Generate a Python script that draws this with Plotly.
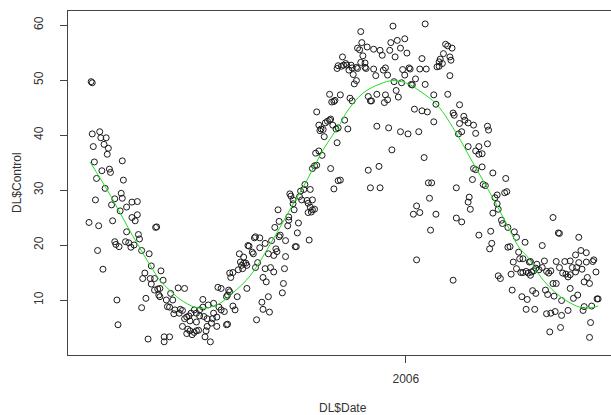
import pandas as pd
import plotly.graph_objects as go

# ---------------- data ----------------
start_date = "2005-03-12"

day_offset = [
    2, 3, 3, 10, 4, 11, 16, 14, 18, 17, 5, 31, 19, 20, 12, 7, 32, 15, 30, 24, 31, 6, 21, 40, 45, 35, 29, 40, 45, 43,
    0, 22, 9, 62, 63, 35, 24, 25, 28, 34, 37, 39, 42, 46, 47, 49, 8, 56, 58, 13, 52, 50, 57, 61, 58, 61, 64, 65, 53, 26,
    49, 27, 55,
    67, 69, 66, 66, 83, 89, 76, 72, 78, 73, 75, 80, 85, 87, 79, 84, 106, 111, 116, 121, 123, 126, 98, 100, 95, 93, 89,
    91, 103, 107, 110, 115, 116, 119, 94, 100, 110, 114, 119, 87, 92, 94, 102, 100, 91, 98, 96, 109, 108, 113, 70, 75,
    70, 128, 129, 134, 136, 138, 128, 129, 130, 131, 123, 120, 103, 106, 131, 132, 134, 140, 141, 142, 147, 146, 144,
    139, 143, 147, 149,
    144, 148, 152, 153, 154, 155, 159, 157, 159, 164, 167, 170, 172, 174, 175, 155, 164, 169, 172, 162, 165, 182, 183,
    183, 178, 177, 173, 176, 177, 186, 185, 186, 187, 188, 190, 190, 191, 192, 193, 195, 194, 196, 198, 197, 200, 201,
    203, 204, 206, 206, 208, 208, 210, 204, 207, 205, 208, 210, 212, 211, 214, 217, 216, 215, 218, 214, 219, 212, 220,
    222, 224, 225, 228, 232, 231, 226, 228, 232, 181, 180, 167, 161, 162, 168, 156,
    253, 283, 313, 254, 281, 287, 294, 250, 252, 259, 265, 271, 280, 290, 296, 273, 255, 285, 310, 236, 253, 257, 232,
    235, 237, 239, 240, 244, 245, 249, 250, 257, 258, 231, 242, 265, 274, 276, 292, 298, 299, 308, 314, 246, 267, 278,
    294, 304, 249, 247, 284, 291, 300, 301, 313, 286, 234, 224, 260, 268, 276, 288, 229, 243, 245, 262, 263, 275, 278,
    303, 310, 315, 225, 227, 230, 238, 241, 268, 279, 290, 297, 307, 282, 312, 260, 270, 234, 262, 271, 316, 317, 305,
    302, 308, 305,
    323, 318, 342, 347, 353, 355, 363, 374, 375, 373, 339, 376, 380, 381, 384, 385, 390, 396, 398, 390, 392, 381, 383,
    393, 395, 398, 400, 401, 394,
    332, 334, 338, 330, 327, 326, 329, 326, 324, 336, 337, 336, 321, 334, 323, 321, 345, 339, 340, 349, 350, 345, 347,
    353, 358, 360, 371, 372, 344, 353, 363, 371, 360, 363, 366, 358, 360, 366, 376, 357, 367, 369, 388, 319, 342, 354,
    380, 378, 387, 389,
    432, 437, 438, 456, 406, 422, 404, 410, 411, 424, 417, 422, 419, 416, 414, 412, 411, 435, 443, 448, 450, 454, 456,
    453, 448, 444, 441, 446, 430, 428, 426, 402, 404, 407, 409, 438, 459, 463, 458, 453, 463, 469, 472, 464, 466, 461,
    470, 432, 435, 448, 425, 427, 413, 416, 403, 408, 433, 440, 451, 455, 407, 415, 434, 440, 446, 426, 430, 460, 461,
    468, 473, 474, 467, 429, 439, 466,
]

control = [
    49.7, 49.5, 40.2, 40.6, 37.9, 39.5, 39.5, 38.3, 37.6, 36.5, 35.1, 35.3, 33.8, 33.2, 33.5, 32.1, 31.8, 30.3, 29.4,
    28.4, 28.5, 28.2, 27.3, 27.8, 27.9, 26.9, 26.2, 25.0, 25.5, 24.4,
    24.1, 24.4, 23.5, 23.2, 23.3, 22.4, 20.6, 20.1, 19.7, 20.6, 20.4, 19.6, 20.0, 21.9, 21.1, 19.0, 19.0, 18.4, 16.2,
    15.6, 14.9, 13.9, 13.9, 13.9, 12.9, 11.8, 12.0, 10.9, 10.3, 10.0,
    8.6, 5.5, 2.9,
    15.3, 13.6, 12.1, 10.6, 12.2, 12.1, 11.2, 10.0, 10.0, 8.8, 8.7, 8.2, 8.3, 8.1, 7.5, 7.6, 10.1, 9.1, 9.4, 8.7, 8.2,
    7.9, 8.2, 7.6, 7.6, 7.1, 6.6,
    6.9, 7.1, 7.0, 6.6, 6.6, 7.6, 6.9, 6.2, 6.0, 5.2, 5.8, 5.2, 5.2, 4.7, 4.4, 4.5, 4.4, 3.9, 4.1, 3.7, 4.4, 3.3, 2.4,
    3.3, 3.3,
    2.4, 5.5, 5.6, 8.9, 8.2, 10.6, 10.6, 10.9, 11.8, 11.5, 12.1, 12.3, 8.2, 8.7, 14.9, 14.1, 15.0, 18.4, 16.9, 16.3,
    16.3, 16.7, 16.7,
    15.5, 15.7, 12.1, 19.8,
    17.8, 19.9, 18.7, 18.4, 21.3, 21.5, 21.3, 16.8, 19.5, 20.3, 18.4, 20.8, 18.1, 19.3, 18.8, 15.9, 15.7, 15.9, 15.1,
    14.1, 13.3, 15.7, 17.9,
    20.8, 21.8, 21.5, 23.2, 26.4, 24.3, 24.5, 23.5, 25.1, 29.3, 28.9, 28.2, 27.5, 26.4, 19.7, 19.7, 24.0, 22.2, 28.8,
    28.2, 29.8, 30.1, 31.0,
    28.1, 27.6, 26.9, 30.1, 28.2, 26.4, 26.5, 25.9, 26.0, 20.9, 33.9, 34.4, 34.5, 36.7, 37.1, 36.3, 41.1, 40.8, 41.0,
    41.8, 39.7, 44.2, 42.2,
    42.5, 42.7, 33.9, 30.2, 31.7, 38.6, 46.0, 46.1, 41.3, 13.0, 11.3, 10.6, 9.6, 8.3, 7.8, 6.4,
    58.8, 59.8, 60.2, 56.8, 56.8, 57.2, 57.5, 55.8, 55.5, 56.0, 55.6, 55.4, 55.4, 55.8, 54.9, 54.5, 54.4, 54.2, 53.9,
    54.2, 53.2, 53.1, 52.6,
    52.5, 52.7, 53.0, 52.7, 52.7, 52.2, 52.3, 52.1, 52.3, 52.1, 52.1, 51.8, 52.0, 51.8, 52.2, 51.9, 52.2, 52.0, 52.0,
    52.0, 51.0, 50.8, 50.9,
    50.9, 50.2, 49.9, 49.3, 49.7, 49.5, 49.2, 49.1, 49.2, 48.1, 47.3, 47.4, 47.0, 47.4, 47.3, 46.9, 46.3, 46.7, 46.2,
    46.2, 46.2, 45.9, 46.4,
    44.7, 44.4, 44.2, 42.9, 41.8, 41.1, 42.7, 41.1, 41.6, 41.3, 40.6, 40.2, 40.6, 37.3, 35.9, 33.6, 34.3, 31.8, 30.4,
    30.4, 31.3, 28.5, 27.1,
    25.6, 25.9, 17.3,
    25.6, 22.7, 24.9, 24.2, 27.8, 26.5, 21.8, 22.5, 20.3, 19.3, 13.6, 25.8, 27.5, 26.5, 24.5, 23.9, 23.2, 22.4, 21.4,
    19.6, 19.7, 14.4, 13.9,
    14.7, 16.9, 15.7, 18.7, 17.5, 11.8,
    56.5, 56.2, 55.8, 54.8, 53.8, 53.3, 53.0, 52.5, 52.4, 54.2, 53.6, 50.8, 47.3, 47.4, 45.6, 42.4, 45.5, 44.0, 43.6,
    43.4, 42.7, 42.1, 40.6,
    42.2, 41.8, 40.3, 41.6, 40.9, 40.2, 37.9, 37.9, 38.4, 37.1, 36.5, 36.6, 33.9, 33.7, 34.2, 33.1, 31.9, 31.0, 30.8,
    32.1, 31.3, 30.4, 28.7,
    29.1, 28.6, 29.5, 29.7,
    25.0, 22.2, 22.1, 21.4, 20.5, 19.9, 17.5, 16.9, 17.0, 17.1, 16.5, 15.9, 15.5, 15.8, 15.3, 15.1, 14.5, 17.0, 17.0,
    17.1, 15.9, 15.9, 16.8,
    15.1, 14.6, 14.7, 14.9, 14.2, 15.3, 14.9, 15.2, 15.0, 15.0, 15.2, 14.9, 15.9, 15.6, 16.9, 19.0, 18.2, 18.6, 17.0,
    15.1, 14.1, 13.0, 13.3,
    17.3, 13.0, 13.0, 12.1, 11.8, 11.0, 11.7, 11.2, 10.6, 10.1, 10.7, 9.9, 10.3, 10.9, 8.3, 8.3, 7.9, 7.2, 8.1, 7.5,
    7.6, 8.1, 8.8,
    8.9, 10.2, 10.2, 5.9, 4.2, 5.0, 3.2,
]

# smoothed (lowess-like) curve
smooth_day = [1, 20, 38, 57, 66, 75, 88, 103, 119, 134, 150, 171, 187, 203, 218, 234, 240, 255, 271, 283, 296,
              308, 324, 343, 355, 371, 386, 401, 408, 423, 439, 454, 463, 474]
smooth_control = [35.1, 29.0, 22.6, 16.3, 13.6, 11.8, 9.7, 8.5, 9.1, 11.3, 14.4, 20.9, 26.4, 31.8, 37.3, 42.1, 44.2,
                  47.6, 49.3, 49.9, 49.4, 48.0, 45.5, 40.0, 35.8, 30.3, 24.9, 19.4, 17.9, 13.6, 10.6, 8.9, 8.5, 8.9]

x_tick_dates = ["2006-01-01"]
x_tick_labels = ["2006"]
y_tick_values = [10, 20, 30, 40, 50, 60]

# ---------------- figure ----------------
t0 = pd.Timestamp(start_date)
dates = t0 + pd.to_timedelta(day_offset, unit="D")
smooth_dates = t0 + pd.to_timedelta(smooth_day, unit="D")

FONT = "Liberation Sans, Arial, sans-serif"
INK = "#333333"

fig = go.Figure()
fig.add_trace(go.Scatter(
    x=dates, y=control, mode="markers",
    marker=dict(symbol="circle-open", size=6, color="#1a1a1a", line=dict(width=1, color="#1a1a1a")),
    showlegend=False, hoverinfo="x+y",
))
fig.add_trace(go.Scatter(
    x=smooth_dates, y=smooth_control, mode="lines",
    line=dict(color="#22dd22", width=1, shape="spline", smoothing=1.0),
    showlegend=False, hoverinfo="skip",
))

fig.update_layout(
    width=611, height=415,
    margin=dict(l=68, r=0, t=11, b=60),
    paper_bgcolor="white", plot_bgcolor="white",
    font=dict(family=FONT, size=12, color=INK),
    xaxis=dict(
        type="date",
        range=[t0 + pd.Timedelta(days=-19.55), t0 + pd.Timedelta(days=486)],
        showgrid=False, zeroline=False,
        showline=True, linecolor="#444444", linewidth=1, mirror=True,
        ticks="outside", ticklen=7, tickcolor="#444444", tickwidth=1,
        tickvals=x_tick_dates, ticktext=x_tick_labels,
        ticklabelstandoff=6,
        tickfont=dict(family=FONT, size=12, color=INK),
    ),
    yaxis=dict(
        range=[0, 62.55],
        showgrid=False, zeroline=False,
        showline=True, linecolor="#444444", linewidth=1, mirror=False,
        ticks="outside", ticklen=7, tickcolor="#444444", tickwidth=1,
        tickvals=y_tick_values, tickangle=-90,
        ticklabelstandoff=12,
        tickfont=dict(family=FONT, size=12, color=INK),
    ),
    annotations=[
        dict(text="DL$Date", xref="paper", yref="paper", x=0.5064, y=-0.154,
             xanchor="center", yanchor="middle", showarrow=False,
             font=dict(family=FONT, size=12, color=INK)),
        dict(text="DL$Control", xref="paper", yref="paper", x=-0.0939, y=0.5,
             xanchor="center", yanchor="middle", textangle=-90, showarrow=False,
             font=dict(family=FONT, size=12, color=INK)),
    ],
)

fig.write_html("out.html")
